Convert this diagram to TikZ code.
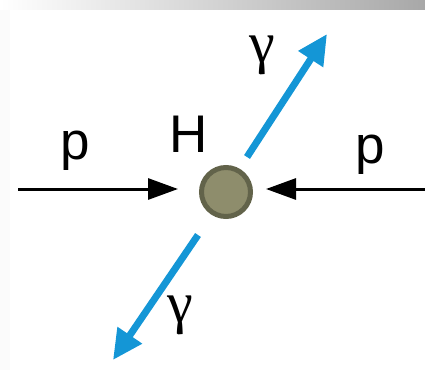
\documentclass[tikz,border=0pt]{standalone}
\usepackage{fontspec}
\setmainfont{Liberation Sans}
\newfontfamily\greekfont{Liberation Serif}
\usetikzlibrary{arrows.meta}
\definecolor{photon}{HTML}{1496D6}
\definecolor{higgsfill}{HTML}{8E8D6C}
\definecolor{higgsline}{HTML}{62634A}
\definecolor{bandgray}{HTML}{A8A8A8}
\definecolor{edge}{HTML}{FBFBFB}

\begin{document}
\begin{tikzpicture}[
  x=1pt,y=-1pt,
  lbl/.style={inner sep=0pt,font=\fontsize{53}{60}\selectfont},
  glbl/.style={inner sep=0pt,font=\fontsize{58}{64}\selectfont\greekfont},
  parr/.style={-{Triangle[length=30pt,width=21pt]},line width=3pt,black},
  garr/.style={-{Triangle[length=30pt,width=28pt]},line width=7pt,draw=photon}
]
\useasboundingbox (0,0) rectangle (425,370);
% slide band
\fill[edge] (0,9) rectangle (10,370);
\shade[left color=white,right color=bandgray] (0,0) rectangle (425,9);

\node[circle,fill=higgsfill,draw=higgsline,line width=5pt,minimum size=49pt,inner sep=0pt] (higgs) at (226,192) {};
\node[lbl] (hlab) at (189,134) {H};

% protons
\coordinate (pinl) at (18,189);
\coordinate (pendl) at (178,189);
\coordinate (pinr) at (425,189);
\coordinate (pendr) at (266,189);
\draw[parr] (pinl) -- (pendl);
\draw[parr] (pinr) -- (pendr);
\node[lbl] (plab1) at (75,151) {p};
\node[lbl] (plab2) at (370,155) {p};

% photons
\coordinate (gup0) at (247,157);
\coordinate (gup1) at (327,34);
\coordinate (gdn0) at (198,235);
\coordinate (gdn1) at (113,360);
\draw[garr] (gup0) -- (gup1);
\draw[garr] (gdn0) -- (gdn1);
\node[glbl] (glab1) at (262,55) {γ};
\node[glbl] (glab2) at (180,315) {γ};
\end{tikzpicture}
\end{document}
